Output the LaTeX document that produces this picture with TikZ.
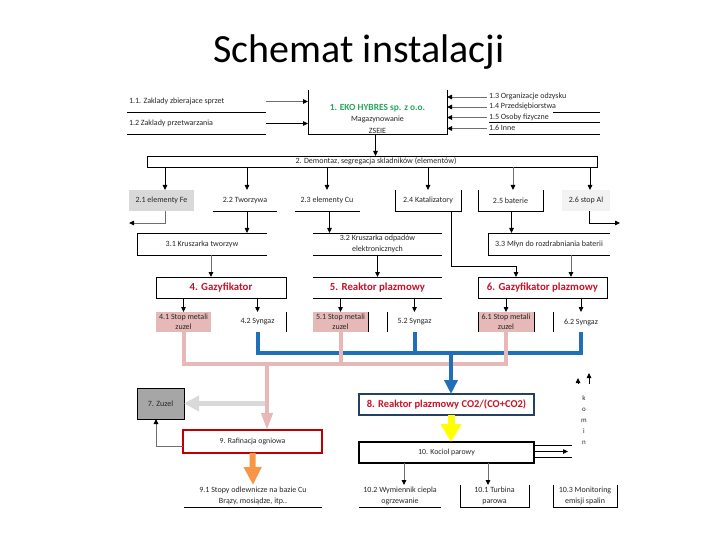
\documentclass[tikz,border=0pt]{standalone}
\usepackage{fontspec}
\setmainfont{Carlito}
\usetikzlibrary{arrows.meta,calc}
\definecolor{pipeblue}{RGB}{31,112,184}
\definecolor{pipepink}{RGB}{230,185,184}
\definecolor{pipegray}{RGB}{217,217,217}
\definecolor{pipeorange}{RGB}{247,150,70}
\definecolor{pipeyellow}{RGB}{255,255,0}
\definecolor{txtred}{RGB}{200,16,40}
\definecolor{txtgreen}{RGB}{40,165,95}
\definecolor{navy}{RGB}{36,64,98}
\definecolor{boxred}{RGB}{192,0,0}
\definecolor{fillfe}{RGB}{217,217,217}
\definecolor{fillal}{RGB}{242,242,242}
\definecolor{fillslag}{RGB}{166,166,166}
\definecolor{fillpink}{RGB}{230,185,184}
\definecolor{lnegray}{RGB}{110,110,110}
\begin{document}
\begin{tikzpicture}[x=1pt,y=-1pt,
  font=\fontsize{8}{9.5}\selectfont,
  bx/.style={inner sep=0pt,outer sep=0pt,align=center,text=black!85},
  ln/.style={draw=black,line width=0.8pt},
  arr/.style={draw=black,line width=0.8pt,-{Triangle[width=4.5pt,length=5pt]}},
  garr/.style={draw=lnegray,line width=0.9pt,-{Triangle[width=4.5pt,length=5pt,color=black]}},
  redlbl/.style={font=\fontsize{10.8}{12}\selectfont\bfseries,text=txtred},
  bluearr/.style={draw=pipeblue,line width=4pt,-{Triangle[width=13pt,length=14pt]}},
  pinkarr/.style={draw=pipepink,line width=4pt,-{Triangle[width=11pt,length=17pt]}},
  grayarr/.style={draw=pipegray,line width=5pt,-{Triangle[width=15pt,length=15pt]}},
  orangearr/.style={draw=pipeorange,line width=6pt,-{Triangle[width=17pt,length=18pt]}},
  yellowarr/.style={draw=pipeyellow,line width=7pt,-{Triangle[width=20pt,length=18pt]}},
  bluepipe/.style={draw=pipeblue,line width=4pt},
  pinkpipe/.style={draw=pipepink,line width=4pt}]
\useasboundingbox (0,0) rectangle (720,540);

% title
\node[bx,anchor=base,font=\fontsize{40}{48}\selectfont,text=black] (title) at (359,63) {Schemat instalacji};

% ---- top-left sources
\node[bx,minimum width=139pt,minimum height=21pt] (n11) at (196.5,101.5) {};
\node[bx,anchor=west] (n11t) at (129,101) {1.1. Zaklady zbierajace sprzet};
\draw[ln] (n11.south west) -- (n11.south east);
\node[bx,minimum width=139pt,minimum height=22pt] (n12) at (196.5,123.5) {};
\node[bx,anchor=west] (n12t) at (129,123) {1.2 Zaklady przetwarzania};
\draw[ln] (n12.south west) -- (n12.south east);

% ---- central box 1
\node[bx,minimum width=139pt,minimum height=44pt] (n1) at (377.5,112) {};
\draw[ln] (n1.north west) -- (n1.south west) -- (n1.south east) -- (n1.north east);
\node[bx,font=\fontsize{8}{11.5}\selectfont] (n1t) at (377.5,118.5)
  {{\fontsize{9.4}{11.5}\selectfont\bfseries\color{txtgreen}1. EKO HYBRES sp. z o.o.}\\Magazynowanie\\ZSEIE};
\draw[garr] (n11.east) -- (n11.east -| n1.west);
\draw[arr] (n12.east) -- (n12.east -| n1.west);

% ---- right sources
\node[bx,minimum width=113pt,minimum height=10pt,anchor=west] (n13) at (487,97) {};
\node[bx,anchor=west] (n13t) at (489,96) {1.3 Organizacje odzysku};
\node[bx,minimum width=113pt,minimum height=10pt,anchor=west] (n14) at (487,107) {};
\node[bx,anchor=west] (n14t) at (489,106.5) {1.4 Przedsiębiorstwa};
\node[bx,minimum width=113pt,minimum height=10.5pt,anchor=west] (n15) at (487,117.5) {};
\node[bx,anchor=west] (n15t) at (489,117) {1.5 Osoby fizyczne};
\node[bx,minimum width=113pt,minimum height=11pt,anchor=west] (n16) at (487,128.5) {};
\node[bx,anchor=west] (n16t) at (489,128) {1.6 Inne};
\draw[ln] ([xshift=66pt]n14.south west) -- (n14.south east);
\draw[ln] ([xshift=2pt]n15.south west) -- (n15.south east);
\draw[ln] ([xshift=2pt]n16.south west) -- (n16.south east);
\draw[garr] (n13.west) -- (n13.west -| n1.east);
\draw[garr] (n14.west) -- (n14.west -| n1.east);
\draw[garr] (n15.west) -- (n15.west -| n1.east);
\draw[garr] (n16.west) -- (n16.west -| n1.east);

% ---- bar 2
\node[bx,minimum width=450pt,minimum height=11pt,draw=black,line width=0.8pt] (n2) at (372,161.5) {};
\node[bx] (n2t) at (376,161.5) {2. Demontaz, segregacja skladników (elementów)};
\draw[arr] ([xshift=-2pt]n1.south) -- ([xshift=-2pt]n1.south |- n2.north);

% ---- row 2
\node[bx,minimum width=65pt,minimum height=21pt,fill=fillfe] (n21) at (161.5,200.5) {2.1 elementy Fe};
\node[bx,minimum width=64pt,minimum height=21pt] (n22) at (245,200.5) {2.2 Tworzywa};
\node[bx,minimum width=65pt,minimum height=21pt] (n23) at (327,200.5) {2.3 elementy Cu};
\node[bx,minimum width=66pt,minimum height=21pt] (n24) at (428,200.5) {2.4 Katalizatory};
\node[bx,minimum width=65pt,minimum height=21pt] (n25) at (510.5,200.5) {2.5 baterie};
\node[bx,minimum width=48pt,minimum height=21pt,fill=fillal] (n26) at (586,200.5) {2.6 stop Al};
\draw[ln] (n22.south west) -- (n22.south east);
\draw[ln] (n23.south west) -- (n23.south east);
\draw[ln] (n24.north west) -- (n24.south west) -- (n24.south east) -- (n24.north east);
\draw[ln] (n25.north west) -- (n25.south west) -- (n25.south east) -- (n25.north east);
\draw[arr] ([xshift=3.5pt]n21.north |- n2.south) -- ([xshift=3.5pt]n21.north);
\draw[arr] ([xshift=2pt]n22.north |- n2.south) -- ([xshift=2pt]n22.north);
\draw[arr] (n23.north |- n2.south) -- (n23.north);
\draw[arr] (n24.north |- n2.south) -- (n24.north);
\draw[garr] ([xshift=2.5pt]n25.north |- n2.south) -- ([xshift=2.5pt]n25.north);
\draw[arr] ([xshift=4pt]n26.north |- n2.south) -- ([xshift=4pt]n26.north);

% ---- row 3
\node[bx,minimum width=130pt,minimum height=22pt] (n31) at (202,244) {3.1 Kruszarka tworzyw};
\node[bx,minimum width=129pt,minimum height=22pt,font=\fontsize{8}{11.5}\selectfont] (n32) at (377.5,244) {3.2 Kruszarka odpadów\\elektronicznych};
\node[bx,minimum width=122pt,minimum height=22pt] (n33) at (549,244) {3.3 Młyn do rozdrabniania baterii};
\draw[ln] (n31.north east) -- (n31.north west) -- (n31.south west) -- (n31.south east);
\draw[ln] (n32.north west) -- (n32.north east);
\draw[ln] (n32.south west) -- (n32.south east);
\draw[ln] (n33.north east) -- (n33.north west) -- (n33.south west) -- (n33.south east);
\draw[arr] ([xshift=2pt]n22.south) -- ([xshift=2pt]n22.south |- n31.north);
\draw[arr] ([xshift=2.5pt]n23.south) -- ([xshift=2.5pt]n23.south |- n32.north);
\draw[arr] ([xshift=1pt]n25.south) -- ([xshift=1pt]n25.south |- n33.north);
\coordinate (fe) at (129,223);
\draw[garr] ([xshift=3.5pt]n21.south) |- (fe);
\coordinate (al) at (620,223);
\draw[arr] ([xshift=3.5pt]n26.south) |- (al);

% ---- row 4
\node[bx,minimum width=130pt,minimum height=21pt,draw=black,line width=0.8pt,redlbl] (n4) at (221,287.5) {4. Gazyfikator};
\node[bx,minimum width=129pt,minimum height=21pt,redlbl] (n5) at (377.5,287.5) {5. Reaktor plazmowy};
\node[bx,minimum width=129pt,minimum height=21pt,draw=black,line width=0.8pt,redlbl] (n6) at (542.5,287.5) {6. Gazyfikator plazmowy};
\draw[ln] (n5.north west) -- (n5.north east);
\draw[ln] (n5.south west) -- (n5.south east);
\draw[garr] ([xshift=9pt]n31.south) -- ([xshift=9pt]n31.south |- n4.north);
\draw[arr] (n32.south) -- (n32.south |- n5.north);
\draw[garr] ([xshift=22pt]n33.south) -- ([xshift=22pt]n33.south |- n6.north);
\draw[arr] ([xshift=23pt]n24.south) -- ++(0,55) -| ([xshift=-26.5pt]n6.north);

% ---- row 5
\node[bx,minimum width=55pt,minimum height=20pt,fill=fillpink,font=\fontsize{8}{9.5}\selectfont] (n41) at (183.5,322) {4.1 Stop metali\\zuzel};
\node[bx,minimum width=57pt,minimum height=20pt] (n42) at (257.5,322) {4.2 Syngaz};
\node[bx,minimum width=55pt,minimum height=20pt,fill=fillpink,font=\fontsize{8}{9.5}\selectfont] (n51) at (340.5,322) {5.1 Stop metali\\zuzel};
\node[bx,minimum width=55pt,minimum height=20pt] (n52) at (414.5,322) {5.2 Syngaz};
\node[bx,minimum width=56pt,minimum height=20pt,fill=fillpink,font=\fontsize{8}{9.5}\selectfont] (n61) at (506,322) {6.1 Stop metali\\zuzel};
\node[bx,minimum width=56pt,minimum height=20pt] (n62) at (581,322) {6.2 Syngaz};
\draw[ln] (n42.north east) -- (n42.south east);
\draw[ln] (n51.north east) -- (n51.south east);
\draw[ln] (n52.north west) -- (n52.south west);
\draw[ln] (n61.north west) -- (n61.south west);
\draw[ln] (n61.north east) -- (n61.south east);
\draw[ln] (n62.north west) -- (n62.south west);
\draw[arr] (n4.south -| n41.north) -- (n41.north);
\draw[arr] (n4.south -| n42.north) -- (n42.north);
\draw[arr] (n5.south -| n51.north) -- (n51.north);
\draw[arr] (n5.south -| n52.north) -- (n52.north);
\draw[arr] (n6.south -| n61.north) -- (n61.north);
\draw[arr] (n6.south -| n62.north) -- (n62.north);

% ---- lower boxes
\node[bx,minimum width=47pt,minimum height=31pt,fill=fillslag,draw=black,line width=0.6pt] (n7) at (160.5,403.5) {7. Zuzel};
\node[bx,minimum width=175pt,minimum height=21pt,draw=navy,line width=1.8pt,font=\fontsize{10.5}{12}\selectfont\bfseries,text=txtred] (n8) at (446.5,404.5) {8. Reaktor plazmowy CO2/(CO+CO2)};
\node[bx,minimum width=139pt,minimum height=23pt,draw=boxred,line width=1.6pt,font=\fontsize{7.8}{9}\selectfont] (n9) at (252.5,441.5) {9. Rafinacja ogniowa};
\node[bx,minimum width=175pt,minimum height=21pt,draw=black,line width=1.8pt,font=\fontsize{7.8}{9}\selectfont] (n10) at (446.5,452.5) {10. Kociol parowy};
\node[bx,minimum width=138pt,minimum height=22pt,font=\fontsize{8}{11}\selectfont] (n91) at (253,496) {9.1 Stopy odlewnicze na bazie Cu\\Brązy, mosiądze, itp..};
\draw[ln] (n91.south west) -- (n91.south east);
\node[bx,minimum width=82pt,minimum height=22pt,font=\fontsize{8}{11}\selectfont] (n102) at (400,496) {10.2 Wymiennik ciepla\\ogrzewanie};
\draw[ln] (n102.south west) -- (n102.south east);
\node[bx,minimum width=69pt,minimum height=22pt,font=\fontsize{8}{11}\selectfont] (n101) at (494.5,496) {10.1 Turbina\\parowa};
\draw[ln] (n101.north west) -- (n101.south west) -- (n101.south east) -- (n101.north east);
\node[bx,minimum width=64pt,minimum height=22pt,font=\fontsize{8}{11}\selectfont] (n103) at (585,496) {10.3 Monitoring\\emisji spalin};
\draw[ln] (n103.north west) -- (n103.south west) -- (n103.south east) -- (n103.north east);

% ---- pipes
\draw[bluepipe] (n42.south) -- ++(0,21) -| (n62.south);
\draw[bluepipe] (n52.south) -- ++(0,21);
\draw[pinkpipe] (n41.south) -- ++(0,32) -| (n61.south);
\draw[pinkpipe] (n51.south) -- ++(0,32);
\coordinate (pd) at (267,364);
\coordinate (bd) at (451,353);
\draw[grayarr] (pd |- n7.east) -- (n7.east);
\draw[pinkarr] (pd) -- (pd |- n9.north);
\draw[bluearr] (bd) -- (bd |- n8.north);
\draw[yellowarr] (n8.south -| bd) -- (n10.north -| bd);
\draw[orangearr] (n9.south) -- (n91.north);
\draw[garr] ([yshift=-4.5pt]n9.west) -| ([xshift=-4.5pt]n7.south);

% ---- boiler outputs
\draw[garr] ([xshift=4pt]n102.north |- n10.south) -- ([xshift=4pt]n102.north);
\draw[garr] ([xshift=-6.5pt]n101.north |- n10.south) -- ([xshift=-6.5pt]n101.north);
\coordinate (k1) at (572,445.5);
\coordinate (k2) at (568,451.5);
\coordinate (k3) at (572,457.5);
\draw[ln] (n10.east |- k1) -- (k1);
\draw[arr] (n10.east |- k2) -- (k2);
\draw[ln] (n10.east |- k3) -- (k3);

% ---- komin
\node[bx,font=\fontsize{7}{11}\selectfont] (komin) at (584,420) {k\\o\\m\\i\\n};
\coordinate (ka1) at (589,384);
\coordinate (ka2) at (589,373);
\coordinate (kb1) at (578,384);
\coordinate (kb2) at (578,378);
\draw[arr] (ka1) -- (ka2);
\draw[arr] (kb1) -- (kb2);
\end{tikzpicture}
\end{document}
